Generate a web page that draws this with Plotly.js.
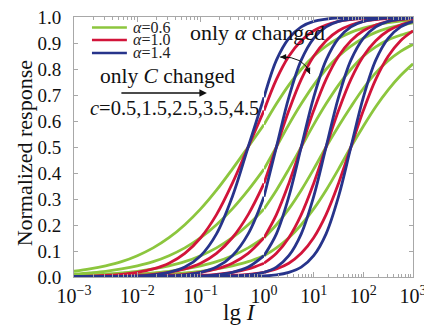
<!DOCTYPE html>
<html>
<head>
<meta charset="utf-8">
<script src="https://cdn.plot.ly/plotly-3.0.1.min.js"></script>
<style>html,body{margin:0;padding:0;background:#fff;}#chart{width:424px;height:329px;}</style>
</head>
<body>
<div id="chart"></div>
<script>
// lg I grid (decades)
const lgI = [-3,-2.75,-2.5,-2.25,-2,-1.75,-1.5,-1.25,-1,-0.75,-0.5,-0.25,0,0.25,0.5,0.75,1,1.25,1.5,1.75,2,2.25,2.5,2.75,3];

const alphaLabels = ['0.6', '1.0', '1.4'];
const cLabels = ['0.5', '1.5', '2.5', '3.5', '4.5'];

// alpha = 0.6
const green_c05 = [0.022,0.031,0.043,0.059,0.082,0.112,0.151,0.201,0.262,0.334,0.415,0.5,0.586,0.666,0.738,0.799,0.849,0.888,0.918,0.941,0.957,0.969,0.978,0.984,0.989];
const green_c15 = [0.011,0.016,0.022,0.031,0.043,0.059,0.082,0.112,0.151,0.201,0.262,0.334,0.415,0.5,0.586,0.666,0.738,0.799,0.849,0.888,0.918,0.941,0.957,0.969,0.978];
const green_c25 = [0.006,0.008,0.011,0.016,0.022,0.031,0.043,0.059,0.082,0.112,0.151,0.201,0.262,0.334,0.415,0.5,0.586,0.666,0.738,0.799,0.849,0.885,0.912,0.93,0.944];
const green_c35 = [0.003,0.004,0.006,0.008,0.011,0.016,0.022,0.031,0.043,0.059,0.082,0.112,0.151,0.201,0.262,0.334,0.415,0.5,0.58,0.655,0.725,0.785,0.832,0.868,0.895];
const green_c45 = [0.001,0.002,0.003,0.004,0.006,0.008,0.011,0.016,0.022,0.031,0.043,0.059,0.082,0.112,0.151,0.201,0.262,0.334,0.415,0.5,0.58,0.655,0.72,0.775,0.82];

// alpha = 1.0
const red_c05 = [0.002,0.003,0.006,0.010,0.018,0.031,0.053,0.091,0.151,0.240,0.360,0.5,0.640,0.760,0.849,0.909,0.947,0.969,0.983,0.990,0.994,0.997,0.998,0.999,0.999];
const red_c15 = [0.001,0.001,0.002,0.003,0.006,0.010,0.018,0.031,0.053,0.091,0.151,0.240,0.360,0.5,0.640,0.760,0.849,0.909,0.947,0.969,0.983,0.990,0.994,0.997,0.998];
const red_c25 = [0,0,0.001,0.001,0.002,0.003,0.006,0.010,0.018,0.031,0.053,0.091,0.151,0.240,0.360,0.5,0.640,0.760,0.849,0.909,0.947,0.969,0.983,0.990,0.994];
const red_c35 = [0,0,0,0,0.001,0.001,0.002,0.003,0.006,0.010,0.018,0.031,0.053,0.091,0.151,0.240,0.360,0.5,0.640,0.760,0.849,0.909,0.947,0.969,0.983];
const red_c45 = [0,0,0,0,0,0,0.001,0.001,0.002,0.003,0.006,0.010,0.018,0.031,0.053,0.091,0.151,0.240,0.360,0.5,0.640,0.760,0.849,0.909,0.947];

// alpha = 1.4
const blue_c05 = [0,0,0.001,0.002,0.004,0.008,0.018,0.038,0.082,0.166,0.309,0.5,0.691,0.834,0.918,0.962,0.983,0.992,0.997,0.998,0.999,1,1,1,1];
const blue_c15 = [0,0,0,0,0.001,0.002,0.004,0.008,0.018,0.038,0.082,0.166,0.309,0.5,0.691,0.834,0.918,0.962,0.983,0.992,0.997,0.998,0.999,1,1];
const blue_c25 = [0,0,0,0,0,0,0.001,0.002,0.004,0.008,0.018,0.038,0.082,0.166,0.309,0.5,0.691,0.834,0.918,0.962,0.983,0.992,0.997,0.998,0.999];
const blue_c35 = [0,0,0,0,0,0,0,0,0.001,0.002,0.004,0.008,0.018,0.038,0.082,0.166,0.309,0.5,0.691,0.834,0.918,0.962,0.983,0.992,0.997];
const blue_c45 = [0,0,0,0,0,0,0,0,0,0,0.001,0.002,0.004,0.008,0.018,0.038,0.082,0.166,0.309,0.5,0.691,0.834,0.918,0.962,0.983];

const xLeftTicks = [0.001, 0.01, 0.1];
const xLeftText = ['10<sup>−3</sup>', '10<sup>−2</sup>', '10<sup>−1</sup>'];
const xRightTicks = [1, 10, 100, 1000];
const xRightText = ['10<sup>0</sup>', '10<sup>1</sup>', '10<sup>2</sup>', '10<sup>3</sup>'];
const yTicks = [0,0.1,0.2,0.3,0.4,0.5,0.6,0.7,0.8,0.9,1.0];

// ---- styling ----
const colors = ['#8cc63e', '#d2143a', '#27348b'];
const families = [
  [green_c05, green_c15, green_c25, green_c35, green_c45],
  [red_c05, red_c15, red_c25, red_c35, red_c45],
  [blue_c05, blue_c15, blue_c25, blue_c35, blue_c45]
];
const FONT = 'Liberation Serif';
const split = 190 / 339;

const xs = lgI.map(v => Math.pow(10, v));
const leftIdx = lgI.map((v, i) => i).filter(i => lgI[i] <= 0);
const rightIdx = lgI.map((v, i) => i).filter(i => lgI[i] >= 0);

const traces = [];
families.forEach((fam, fi) => {
  fam.forEach((ys, ci) => {
    const base = {
      type: 'scatter', mode: 'lines', showlegend: false,
      name: 'α=' + alphaLabels[fi] + ', c=' + cLabels[ci],
      line: {color: colors[fi], width: 2.8, shape: 'spline', smoothing: 1},
      hoverinfo: 'skip'
    };
    traces.push(Object.assign({}, base, {
      x: leftIdx.map(i => xs[i]), y: leftIdx.map(i => ys[i]), xaxis: 'x', yaxis: 'y'
    }));
    traces.push(Object.assign({}, base, {
      x: rightIdx.map(i => xs[i]), y: rightIdx.map(i => ys[i]), xaxis: 'x2', yaxis: 'y2'
    }));
  });
});

const axisLine = '#a8a8a8';
const commonX = {
  type: 'log', showgrid: false, zeroline: false,
  showline: true, linecolor: axisLine, linewidth: 1, mirror: 'ticks',
  ticks: 'inside', ticklen: 5, tickcolor: axisLine, tickmode: 'array',
  minor: {ticks: 'inside', ticklen: 3, tickcolor: axisLine, dtick: 'D1', showgrid: false},
  tickfont: {family: FONT, size: 20, color: '#111'}, ticklabelstandoff: 1,
  ticklabeloverflow: 'allow'
};
const commonY = {
  range: [0, 1], showgrid: false, zeroline: false,
  showline: true, linecolor: axisLine, linewidth: 1,
  ticks: 'inside', ticklen: 4, tickcolor: axisLine
};

const annotations = [
  {xref: 'paper', yref: 'paper', x: 0.487, y: -0.138, text: 'lg <i>I</i>', showarrow: false,
   font: {family: FONT, size: 23, color: '#111'}, xanchor: 'center', yanchor: 'middle'},
  {xref: 'paper', yref: 'paper', x: -0.145, y: 0.475, text: 'Normalized response', showarrow: false,
   textangle: -90, font: {family: FONT, size: 22, color: '#111'}, xanchor: 'center', yanchor: 'middle'},
  {xref: 'paper', yref: 'paper', x: 0.336, y: 0.942, text: 'only <i>α</i> changed', showarrow: false,
   font: {family: FONT, size: 22, color: '#111'}, xanchor: 'left', yanchor: 'middle'},
  {xref: 'paper', yref: 'paper', x: 0.071, y: 0.773, text: 'only <i>C</i> changed', showarrow: false,
   font: {family: FONT, size: 21.5, color: '#111'}, xanchor: 'left', yanchor: 'middle'},
  {xref: 'paper', yref: 'paper', x: 0.041, y: 0.650, text: '<i>c</i>=' + cLabels.join(','), showarrow: false,
   font: {family: FONT, size: 20.5, color: '#111'}, xanchor: 'left', yanchor: 'middle'},
  // straight arrow under "only C changed"
  {xref: 'paper', yref: 'paper', x: 0.392, y: 0.708, ax: -87, ay: 0, text: '', showarrow: true,
   arrowhead: 2, arrowsize: 1, arrowwidth: 1.5, arrowcolor: '#111'},
  // curved double arrow ends
  {xref: 'paper', yref: 'paper', x: 0.608, y: 0.846, ax: 9, ay: 0, text: '', showarrow: true,
   arrowhead: 2, arrowsize: 1, arrowwidth: 1.2, arrowcolor: '#111'},
  {xref: 'paper', yref: 'paper', x: 0.696, y: 0.781, ax: -4, ay: -9, text: '', showarrow: true,
   arrowhead: 2, arrowsize: 1, arrowwidth: 1.2, arrowcolor: '#111'}
];

const shapes = [
  {type: 'path', xref: 'paper', yref: 'paper',
   path: 'M 0.608 0.846 Q 0.680 0.850 0.696 0.781',
   line: {color: '#111', width: 1}}
];

// manual legend
const legY = [0.960, 0.912, 0.862];
alphaLabels.forEach((a, i) => {
  shapes.push({type: 'line', xref: 'paper', yref: 'paper', x0: 0.053, x1: 0.156, y0: legY[i], y1: legY[i],
    line: {color: colors[i], width: 2.5}});
  annotations.push({xref: 'paper', yref: 'paper', x: 0.168, y: legY[i], text: '<i>α</i>=' + a,
    showarrow: false, xanchor: 'left', yanchor: 'middle', font: {family: FONT, size: 16, color: '#222'}});
});

const layout = {
  width: 424, height: 329,
  margin: {l: 74, r: 11, t: 17, b: 52},
  paper_bgcolor: '#fff', plot_bgcolor: '#fff',
  showlegend: false,
  font: {family: FONT, color: '#111'},
  xaxis: Object.assign({}, commonX, {domain: [0, split], range: [-3, 0], anchor: 'y',
    tickvals: xLeftTicks, ticktext: xLeftText}),
  xaxis2: Object.assign({}, commonX, {domain: [split, 1], range: [0, 3], anchor: 'y2',
    tickvals: xRightTicks, ticktext: xRightText}),
  yaxis: Object.assign({}, commonY, {anchor: 'x', side: 'left', tickvals: yTicks, tickformat: '.1f',
    tickfont: {family: FONT, size: 19, color: '#111'}, ticklabelstandoff: 8}),
  yaxis2: Object.assign({}, commonY, {anchor: 'x2', side: 'right', tickvals: yTicks, showticklabels: false}),
  annotations: annotations,
  shapes: shapes
};

Plotly.newPlot('chart', traces, layout, {displayModeBar: false, staticPlot: true});
</script>
</body>
</html>
